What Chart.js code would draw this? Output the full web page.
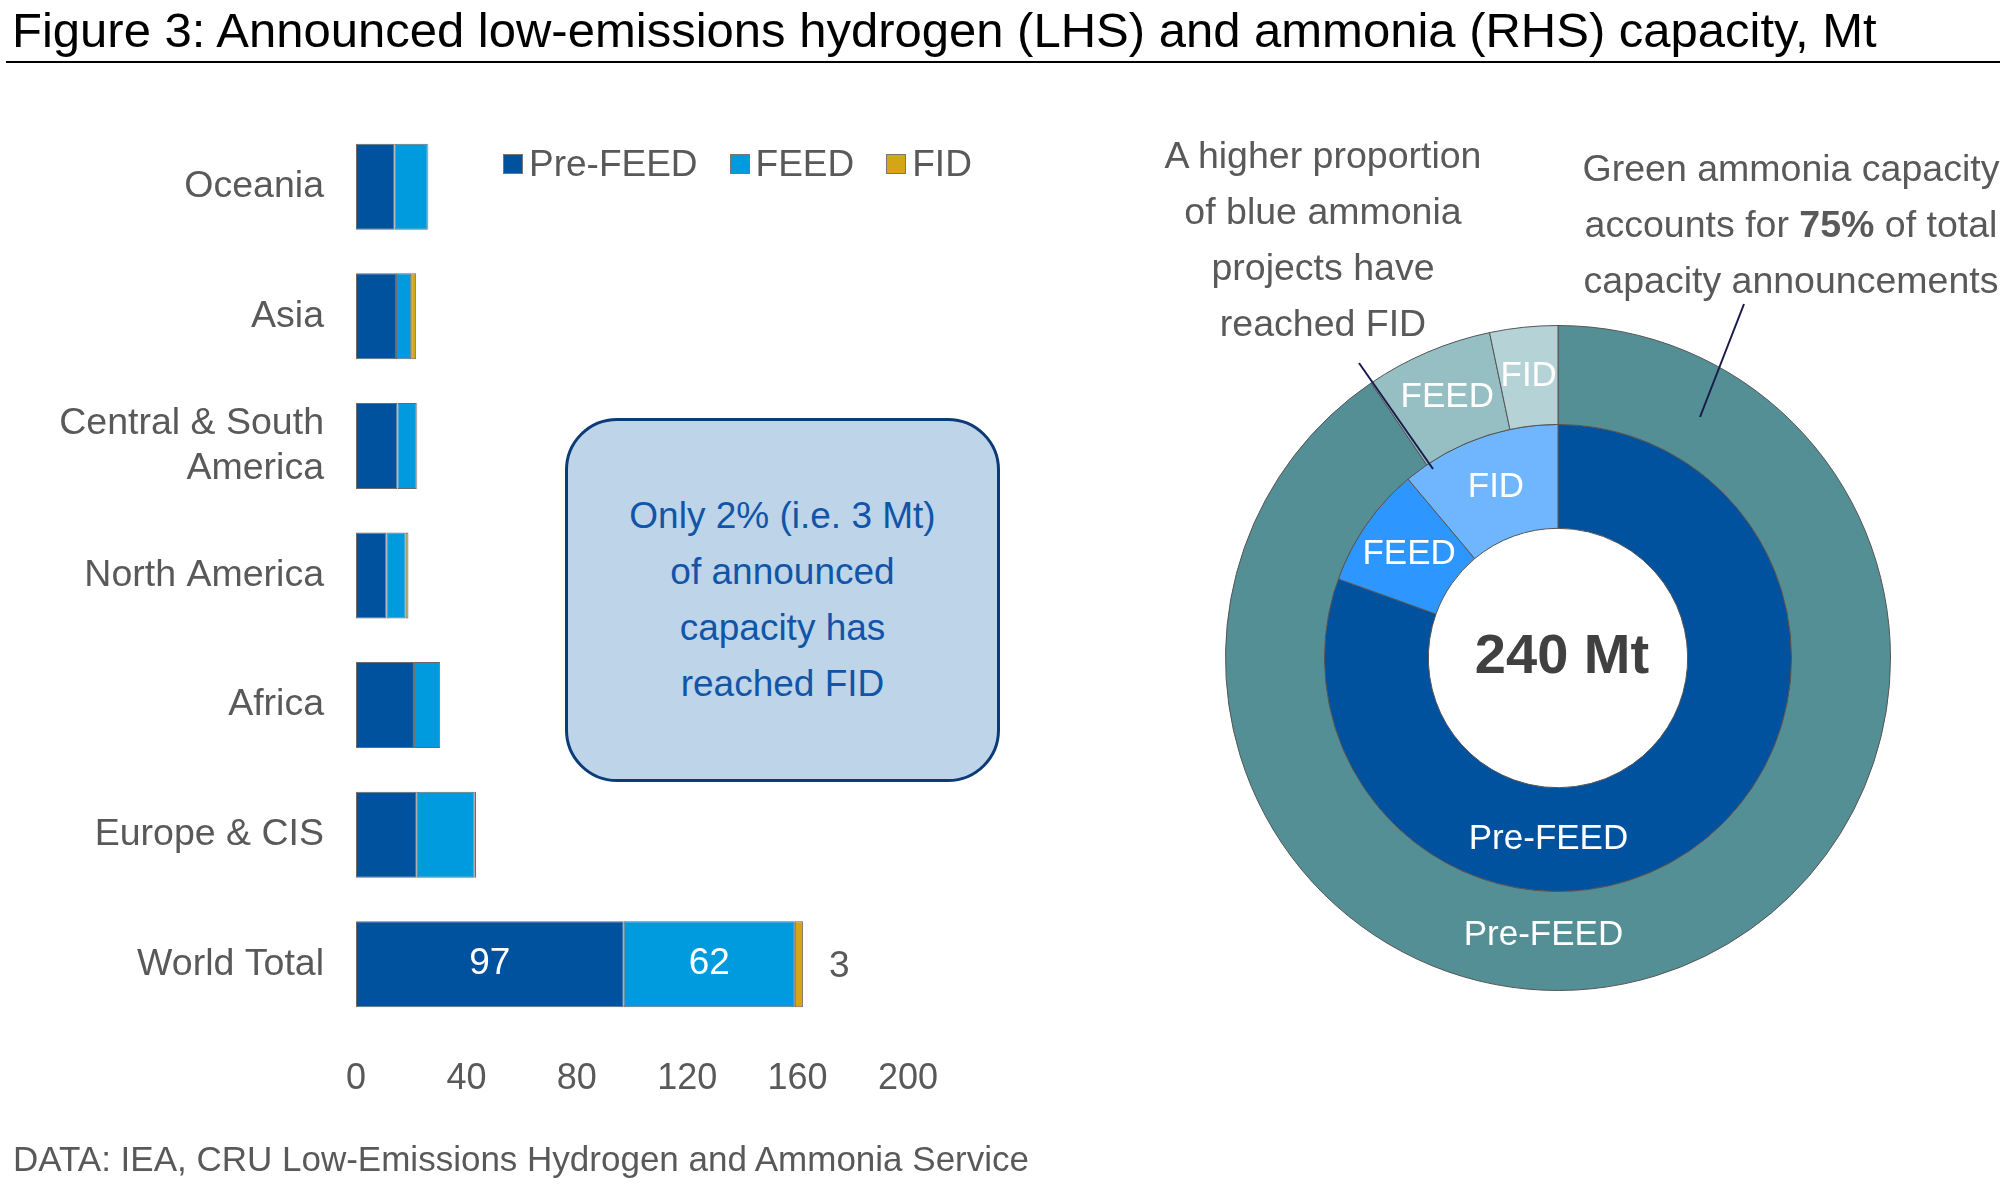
<!DOCTYPE html>
<html>
<head>
<meta charset="utf-8">
<script src="https://cdn.jsdelivr.net/npm/chart.js@4.4.1/dist/chart.umd.min.js"></script>
<style>
    body { margin: 0; background: #fff; font-family: "Liberation Sans", Arial, sans-serif; }
    #page { position: relative; width: 2010px; height: 1186px; overflow: hidden; }
    .abs { position: absolute; }
    #title { left: 12px; top: 2px; font-size: 49px; color: #000; white-space: nowrap; }
    #rule { left: 6px; top: 61px; width: 1994px; height: 2px; background: #000; }
    #legend { left: 503px; top: 143px; font-size: 37px; color: #595959; display: flex; gap: 32px; }
    #legend span { display: inline-flex; align-items: center; }
    #legend i { display: inline-block; width: 18px; height: 18px; margin-right: 6px; border: 1px solid #777; }
    #box { left: 565px; top: 418px; width: 429px; height: 358px; background: #bed4e9; border: 3px solid #0b3c78;
           border-radius: 52px; color: #1155a8; font-size: 37px; line-height: 56px; text-align: center;
           display: flex; align-items: center; justify-content: center; }
    .note { font-size: 37.5px; line-height: 56px; color: #595959; text-align: center; white-space: nowrap; }
    #source { left: 13px; top: 1139px; font-size: 35px; color: #595959; white-space: nowrap; }
</style>
</head>
<body>
<div id="page">
    <div id="title" class="abs">Figure 3: Announced low-emissions hydrogen (LHS) and ammonia (RHS) capacity, Mt</div>
    <div id="rule" class="abs"></div>

    <canvas id="barChart" class="abs" style="left:0;top:0;width:1000px;height:1110px;"></canvas>
    <canvas id="donutChart" class="abs" style="left:1198px;top:298px;width:720px;height:720px;"></canvas>

    <div id="legend" class="abs"></div>
    <div id="box" class="abs"><div>Only 2% (i.e. 3 Mt)<br>of announced<br>capacity has<br>reached FID</div></div>

    <div class="abs note" style="left:1323px;top:127px;transform:translateX(-50%);">A higher proportion<br>of blue ammonia<br>projects have<br>reached FID</div>
    <div class="abs note" style="left:1791px;top:140px;transform:translateX(-50%);">Green ammonia capacity<br>accounts for <b>75%</b> of total<br>capacity announcements</div>

    <svg class="abs" style="left:0;top:0;" width="2010" height="1186">
        <line x1="1359" y1="363" x2="1433" y2="469" stroke="#1a1a4a" stroke-width="2"/>
        <line x1="1744" y1="304" x2="1700" y2="417" stroke="#1a1a4a" stroke-width="2"/>
    </svg>

    <div id="source" class="abs">DATA: IEA, CRU Low-Emissions Hydrogen and Ammonia Service</div>
</div>

<script>
// ---- Hydrogen capacity by region (Mt) ----
const regions = ['Oceania', 'Asia', ['Central & South', 'America'], 'North America', 'Africa', 'Europe & CIS', 'World Total'];
const preFeed = [14, 14.5, 15, 11, 21, 22, 97];
const feed = [12, 5.5, 7, 7, 9.5, 21, 62];
const fid = [0.2, 1.8, 0.2, 1, 0, 0.5, 3];
const xTicks = [0, 40, 80, 120, 160, 200];
const stageNames = ['Pre-FEED', 'FEED', 'FID'];
const barColors = ['#00519e', '#009ade', '#d4a514'];

// ---- Ammonia capacity by stage (share of 240 Mt) ----
const greenAmmonia = [90.5, 6.2, 3.3];
const blueAmmonia = [80.5, 8.4, 11.1];
const greenColors = ['#548f96', '#95bfc3', '#b5d3d6'];
const blueColors = ['#00519e', '#2e96ff', '#6fb6ff'];
const totalLabel = '240 Mt';

const FONT = '"Liberation Sans", Arial, sans-serif';
const GREY = '#595959';

// Legend
const legendEl = document.getElementById('legend');
stageNames.forEach((name, i) => {
    legendEl.innerHTML += `<span><i style="background:${barColors[i]}"></i>${name}</span>`;
});

// 1. Bar chart
const worldLabels = {
    id: 'worldLabels',
    afterDatasetsDraw(chart) {
        const { ctx } = chart;
        const last = regions.length - 1;
        ctx.save();
        ctx.font = `37px ${FONT}`;
        ctx.textBaseline = 'middle';
        ctx.textAlign = 'center';
        [0, 1].forEach(d => {
            const bar = chart.getDatasetMeta(d).data[last];
            ctx.fillStyle = '#fff';
            ctx.fillText(chart.data.datasets[d].data[last], (bar.x + bar.base) / 2, bar.y);
        });
        const fidBar = chart.getDatasetMeta(2).data[last];
        ctx.fillStyle = GREY;
        ctx.textAlign = 'left';
        ctx.fillText(fid[last], fidBar.x + 26, fidBar.y + 3);
        ctx.restore();
    }
};

new Chart(document.getElementById('barChart'), {
    type: 'bar',
    data: {
        labels: regions,
        datasets: [preFeed, feed, fid].map((data, i) => ({
            label: stageNames[i],
            data: data,
            backgroundColor: barColors[i],
            borderColor: '#6b6b6b',
            borderWidth: 1,
            borderSkipped: false,
            barPercentage: 0.664,
            categoryPercentage: 1
        }))
    },
    options: {
        indexAxis: 'y',
        responsive: false,
        animation: false,
        devicePixelRatio: 1,
        layout: { padding: { top: 122, right: 92 } },
        plugins: { legend: { display: false }, tooltip: { enabled: false } },
        scales: {
            x: {
                stacked: true, min: 0, max: 200,
                afterBuildTicks: s => { s.ticks = xTicks.map(v => ({ value: v })); },
                grid: { display: false }, border: { display: false },
                ticks: { color: GREY, font: { size: 36, family: FONT }, padding: 20 },
                afterFit: s => { s.height = 81; }
            },
            y: {
                stacked: true,
                grid: { display: false }, border: { display: false },
                ticks: { color: GREY, font: { size: 37.5, family: FONT }, padding: 24, lineHeight: 1.1 },
                afterFit: s => { s.width = 356; }
            }
        }
    },
    plugins: [worldLabels]
});

// 2. Donut chart
const donutLabels = {
    id: 'donutLabels',
    afterDatasetsDraw(chart) {
        const { ctx } = chart;
        ctx.save();
        ctx.font = `35px ${FONT}`;
        ctx.fillStyle = '#fff';
        ctx.textAlign = 'center';
        ctx.textBaseline = 'middle';
        chart.data.datasets.forEach((ds, d) => {
            chart.getDatasetMeta(d).data.forEach((arc, i) => {
                let pos = arc.getCenterPoint();
                if (i === 0) {
                    const r = (arc.innerRadius + arc.outerRadius) / 2 - (d === 0 ? 5 : 0);
                    const a = (183 - 90) * Math.PI / 180;
                    pos = { x: arc.x + r * Math.cos(a), y: arc.y + r * Math.sin(a) };
                }
                ctx.fillText(stageNames[i], pos.x, pos.y);
            });
        });
        const c = chart.getDatasetMeta(0).data[0];
        ctx.font = `bold 56px ${FONT}`;
        ctx.fillStyle = '#404040';
        ctx.fillText(totalLabel, c.x + 4, c.y);
        ctx.restore();
    }
};

new Chart(document.getElementById('donutChart'), {
    type: 'doughnut',
    data: {
        labels: stageNames,
        datasets: [
            { data: greenAmmonia, backgroundColor: greenColors, borderColor: '#555', borderWidth: 1, weight: 100 },
            { data: blueAmmonia, backgroundColor: blueColors, borderColor: '#555', borderWidth: 1, weight: 105 }
        ]
    },
    options: {
        responsive: false,
        animation: false,
        devicePixelRatio: 1,
        cutout: '39%',
        layout: { padding: 27 },
        plugins: { legend: { display: false }, tooltip: { enabled: false } }
    },
    plugins: [donutLabels]
});
</script>
</body>
</html>
